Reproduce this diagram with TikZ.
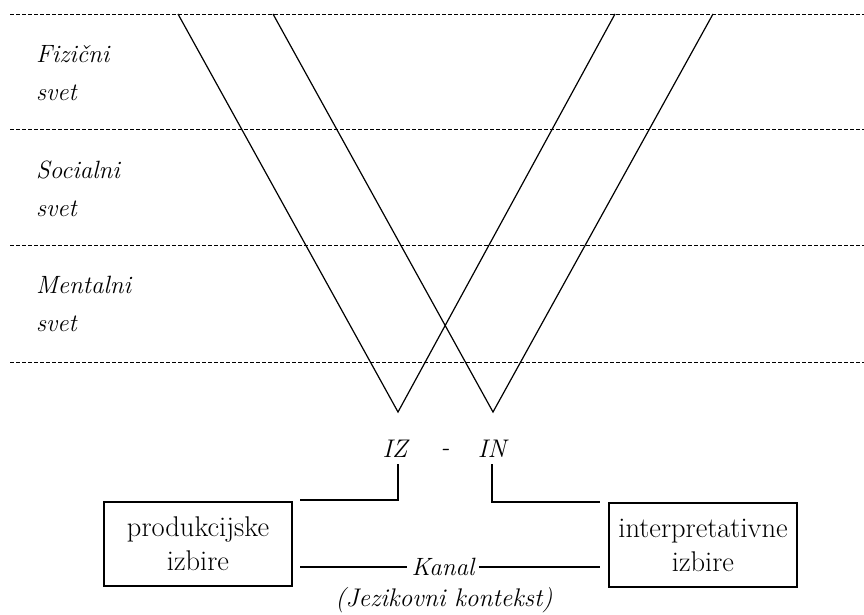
\documentclass[tikz,border=0pt]{standalone}
\usepackage{fontspec}
\begin{document}
\begin{tikzpicture}[x=1pt,y=-1pt,
  every node/.style={inner sep=0pt,outer sep=0pt},
  layer/.style={dash pattern=on 4pt off 2pt,line width=1pt},
  vline/.style={line width=1.2pt},
  conn/.style={line width=1.2pt},
  world/.style={anchor=west,align=left,font=\fontsize{25}{38}\selectfont\itshape},
  sidelabel/.style={font=\fontsize{25.5}{28}\selectfont\itshape},
  choicebox/.style={draw,line width=1.2pt,minimum width=188pt,minimum height=84pt,align=center,font=\fontsize{28.5}{34}\selectfont}]
\useasboundingbox (0,0) rectangle (864,614);
% layers
\coordinate (d1a) at (10,14);  \coordinate (d1b) at (864,14);
\coordinate (d2a) at (10,129); \coordinate (d2b) at (864,129);
\coordinate (d3a) at (10,245); \coordinate (d3b) at (864,245);
\coordinate (d4a) at (10,362); \coordinate (d4b) at (864,362);
\draw[layer] (d1a) -- (d1b);
\draw[layer] (d2a) -- (d2b);
\draw[layer] (d3a) -- (d3b);
\draw[layer] (d4a) -- (d4b);
% labels
\node[world] (fiz) at (36,73) {Fizični\\svet};
\node[world] (soc) at (36,189) {Socialni\\svet};
\node[world] (men) at (36,304) {Mentalni\\svet};
% V shapes
\coordinate (lt1) at (178,14);
\coordinate (lv) at (398,412);
\coordinate (lt2) at (615,14);
\coordinate (rt1) at (273,14);
\coordinate (rv) at (493,412);
\coordinate (rt2) at (713,14);
\draw[vline] (lt1) -- (lv) -- (lt2);
\draw[vline] (rt1) -- (rv) -- (rt2);
% IZ - IN
\node[sidelabel] (iz) at (395,449) {IZ};
\node[sidelabel] (dash) at (445,452) {-};
\node[sidelabel] (in) at (492,449) {IN};
% boxes
\node[choicebox] (prod) at (198,544) {produkcijske\\izbire};
\node[choicebox] (interp) at (703,545) {interpretativne\\izbire};
% connectors
\coordinate (izs) at (398,464);
\coordinate (ins) at (492,464);
\coordinate (izc) at (398,500);
\coordinate (izl) at (300,500);
\coordinate (inc) at (492,502);
\coordinate (inr) at (600,502);
\draw[conn] (izs) -- (izc) -- (izl);
\draw[conn] (ins) -- (inc) -- (inr);
% Kanal
\node[font=\fontsize{25}{28}\selectfont\itshape] (kanal) at (443,567) {Kanal};
\coordinate (kl) at (300,567);
\coordinate (kr) at (600,567);
\draw[conn] (kl) -- ([xshift=-5pt]kanal.west);
\draw[conn] ([xshift=5pt]kanal.east) -- (kr);
\node[font=\fontsize{25.5}{28}\selectfont\itshape] (jez) at (444,600) {(Jezikovni kontekst)};
\end{tikzpicture}
\end{document}
